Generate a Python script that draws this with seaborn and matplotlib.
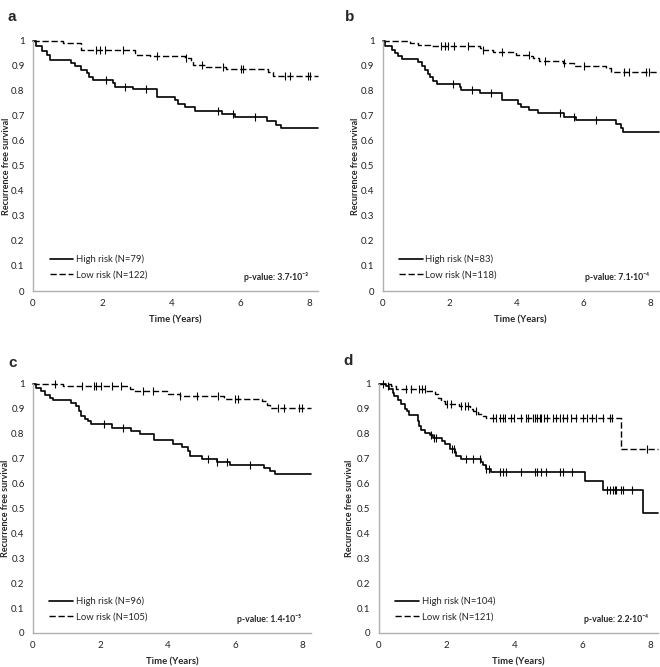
import numpy as np
import pandas as pd
import matplotlib
matplotlib.use("Agg")
import matplotlib.pyplot as plt
from matplotlib.ticker import FuncFormatter
import seaborn as sns

sns.set_style("white")
plt.rcParams['font.family'] = ['Lato', 'DejaVu Sans']

# ---- data (time in years, survival fraction) ----
T_END = 8.24

# panel a
a_high_t = [0, 0.1, 0.25, 0.4, 0.5, 1.09, 1.2, 1.4, 1.55, 1.63, 1.73, 2.31, 2.36, 2.89, 3.57, 4.1, 4.2, 4.4, 4.67, 5.47, 5.83, 6.75, 7.03, 7.18, T_END]
a_high_s = [1, 0.98, 0.96, 0.945, 0.924, 0.91, 0.898, 0.885, 0.87, 0.855, 0.845, 0.83, 0.817, 0.806, 0.776, 0.762, 0.748, 0.735, 0.72, 0.708, 0.694, 0.68, 0.665, 0.651, 0.651]
a_high_c = [2.12, 2.65, 3.28, 5.35, 5.78, 6.41]
a_low_t = [0, 0.87, 1.4, 2.94, 2.99, 3.37, 4.39, 4.58, 4.63, 5.0, 5.59, 6.8, 6.94, T_END]
a_low_s = [1, 0.99, 0.965, 0.953, 0.945, 0.94, 0.93, 0.918, 0.905, 0.895, 0.888, 0.875, 0.86, 0.86]
a_low_c = [1.83, 1.93, 2.07, 2.6, 3.57, 4.43, 4.87, 5.5, 6.02, 6.07, 7.28, 7.42, 7.95, 8.0]

# panel b
b_high_t = [0, 0.07, 0.26, 0.36, 0.46, 0.56, 1.06, 1.16, 1.26, 1.36, 1.41, 1.49, 1.61, 1.7, 2.3, 2.35, 2.9, 3.56, 4.03, 4.13, 4.38, 4.63, 5.42, 5.77, 6.96, 7.1, 7.16, T_END]
b_high_s = [1, 0.98, 0.965, 0.95, 0.94, 0.928, 0.915, 0.9, 0.885, 0.868, 0.855, 0.84, 0.828, 0.828, 0.815, 0.802, 0.79, 0.763, 0.748, 0.737, 0.723, 0.71, 0.697, 0.683, 0.667, 0.652, 0.637, 0.637]
b_high_c = [2.1, 2.65, 3.24, 5.3, 5.72, 6.36]
b_low_t = [0, 0.81, 1.06, 1.4, 2.9, 3.0, 3.3, 3.98, 4.38, 4.5, 4.68, 5.37, 5.72, 6.66, 6.81, T_END]
b_low_s = [1, 0.99, 0.985, 0.98, 0.97, 0.963, 0.955, 0.945, 0.94, 0.93, 0.92, 0.91, 0.9, 0.89, 0.875, 0.875]
b_low_c = [1.75, 1.85, 1.95, 2.12, 2.55, 3.0, 3.57, 4.36, 4.83, 5.42, 6.0, 7.2, 7.35, 7.85, 7.95]

# panel c
c_high_t = [0, 0.08, 0.25, 0.35, 0.5, 0.6, 1.14, 1.29, 1.37, 1.41, 1.54, 1.64, 1.73, 2.33, 2.92, 3.17, 3.59, 4.16, 4.41, 4.61, 4.66, 5.0, 5.45, 5.85, 6.84, 7.04, 7.19, T_END]
c_high_s = [1, 0.985, 0.97, 0.955, 0.945, 0.935, 0.925, 0.91, 0.89, 0.87, 0.86, 0.85, 0.84, 0.822, 0.81, 0.8, 0.775, 0.76, 0.748, 0.73, 0.71, 0.7, 0.685, 0.675, 0.662, 0.65, 0.64, 0.64]
c_high_c = [2.1, 2.68, 5.2, 5.45, 5.75, 6.44]
c_low_t = [0, 0.89, 2.87, 2.97, 4.0, 4.36, 5.65, 6.79, 6.94, 7.04, T_END]
c_low_s = [1, 0.99, 0.98, 0.97, 0.96, 0.95, 0.94, 0.93, 0.915, 0.905, 0.905]
c_low_c = [0.64, 1.44, 1.8, 1.88, 2.03, 2.33, 2.6, 3.27, 3.57, 4.36, 4.86, 5.5, 6.0, 6.07, 7.28, 7.43, 7.88, 7.98]

# panel d
d_high_t = [0, 0.22, 0.31, 0.41, 0.46, 0.56, 0.66, 0.76, 0.83, 0.9, 1.15, 1.2, 1.25, 1.35, 1.5, 1.6, 1.85, 1.94, 2.09, 2.24, 2.29, 2.43, 3.02, 3.07, 3.17, 3.32, 3.42, 6.08, 6.62, 7.8, T_END]
d_high_s = [1, 0.99, 0.98, 0.965, 0.953, 0.935, 0.92, 0.9, 0.89, 0.875, 0.85, 0.83, 0.815, 0.805, 0.795, 0.785, 0.77, 0.76, 0.74, 0.725, 0.71, 0.7, 0.685, 0.675, 0.66, 0.648, 0.648, 0.61, 0.575, 0.48, 0.48]
d_high_c = [0.12, 0.27, 1.55, 1.63, 1.68, 2.17, 2.22, 2.58, 2.78, 2.98, 3.17, 3.25, 3.57, 3.66, 3.76, 4.2, 4.6, 4.68, 4.8, 4.93, 5.34, 5.44, 5.71,
            6.72, 6.82, 6.9, 6.97, 7.0, 7.14, 7.21, 7.46]
d_low_t = [0, 0.36, 0.51, 1.4, 1.65, 1.75, 1.84, 1.94, 2.38, 2.68, 2.78, 2.93, 3.07, 3.17, 7.16, T_END]
d_low_s = [1, 0.99, 0.98, 0.97, 0.96, 0.945, 0.93, 0.92, 0.91, 0.9, 0.89, 0.88, 0.87, 0.862, 0.74, 0.74]
d_low_c = [0.81, 0.96, 1.2, 1.28, 1.35, 2.0, 2.13, 2.43, 2.53, 2.63, 2.88, 3.37, 3.47, 3.57, 3.67, 3.72, 3.91, 4.0, 4.2, 4.35, 4.4,
           4.55, 4.62, 4.68, 4.75, 4.8, 4.86, 4.95, 5.14, 5.24, 5.34, 5.44, 5.54, 5.68, 5.83, 6.03, 6.13, 6.28, 6.42, 6.62, 6.82, 6.87, 7.9]

letters = ["a", "b", "c", "d"]
n_high = [79, 83, 96, 104]
n_low = [122, 118, 105, 121]
p_labels = ["p-value: 3.7·10⁻³", "p-value: 7.1·10⁻⁴", "p-value: 1.4·10⁻⁵", "p-value: 2.2·10⁻⁴"]

panels = [
    (a_high_t, a_high_s, a_high_c, a_low_t, a_low_s, a_low_c),
    (b_high_t, b_high_s, b_high_c, b_low_t, b_low_s, b_low_c),
    (c_high_t, c_high_s, c_high_c, c_low_t, c_low_s, c_low_c),
    (d_high_t, d_high_s, d_high_c, d_low_t, d_low_s, d_low_c),
]

# axes rectangles (figure fraction)
rects = [
    [0.050, 0.5637, 0.432, 0.375],
    [0.580, 0.5637, 0.418, 0.375],
    [0.050, 0.0510, 0.421, 0.3733],
    [0.574, 0.0510, 0.423, 0.3733],
]
letter_pos = [(0.012, 0.985), (0.523, 0.985), (0.012, 0.466), (0.521, 0.470)]
ylabel_x = [-0.077, -0.082, -0.083, -0.09]

DASH = (0, (4.5, 2))


def censor_y(t, s, c):
    idx = np.searchsorted(np.asarray(t), np.asarray(c), side="right") - 1
    return np.asarray(s)[idx]


def fmt(v, pos):
    if abs(v) < 1e-9 or abs(v - 1) < 1e-9:
        return f"{int(round(v))}"
    return f"{v:.1f}"


fig = plt.figure(figsize=(6.6, 6.67), dpi=100)

for i, (ht, hs, hc, lt, ls_, lc) in enumerate(panels):
    ax = fig.add_axes(rects[i])
    high = pd.DataFrame({"t": ht, "s": hs})
    low = pd.DataFrame({"t": lt, "s": ls_})
    sns.lineplot(data=high, x="t", y="s", ax=ax, color="black", lw=1.2,
                 drawstyle="steps-post", estimator=None, sort=False,
                 label=f"High risk (N={n_high[i]})", clip_on=False)
    sns.lineplot(data=low, x="t", y="s", ax=ax, color="black", lw=1.0,
                 drawstyle="steps-post", estimator=None, sort=False,
                 linestyle=DASH, label=f"Low risk (N={n_low[i]})", clip_on=False)
    cens = pd.DataFrame({"t": list(hc) + list(lc),
                         "s": list(censor_y(ht, hs, hc)) + list(censor_y(lt, ls_, lc))})
    ax.plot(cens["t"], cens["s"], ls="none", marker="|", ms=6, mew=0.8,
            color="black", clip_on=False)

    ax.set_xlim(0, T_END)
    ax.set_ylim(0, 1)
    ax.set_xticks([0, 2, 4, 6, 8])
    ax.set_yticks(np.arange(0, 1.01, 0.1))
    ax.yaxis.set_major_formatter(FuncFormatter(fmt))
    ax.tick_params(axis="both", length=0, labelsize=7, colors="#222222", pad=6)
    for side in ("top", "right"):
        ax.spines[side].set_visible(False)
    for side in ("left", "bottom"):
        ax.spines[side].set_color("#b0b0b0")
        ax.spines[side].set_linewidth(1.0)
    ax.set_xlabel("Time (Years)", fontsize=6.8, fontweight="bold", labelpad=5)
    ax.set_ylabel("Recurrence free survival", fontsize=6.5, fontweight="bold")
    ax.yaxis.set_label_coords(ylabel_x[i], 0.5)

    ax.legend(loc="lower left", bbox_to_anchor=(0.045, 0.03), frameon=False,
              borderaxespad=0, fontsize=6.8, handlelength=2.5, handletextpad=0.3,
              labelspacing=0.7)
    ax.text(0.965, 0.057, p_labels[i], transform=ax.transAxes, ha="right", va="center",
            fontsize=6.3, fontweight="bold")
    fig.text(letter_pos[i][0], letter_pos[i][1], letters[i], fontsize=11, fontweight="bold",
             family=["Liberation Sans", "DejaVu Sans"], ha="left", va="top")

fig.savefig("out.png", dpi=100)
